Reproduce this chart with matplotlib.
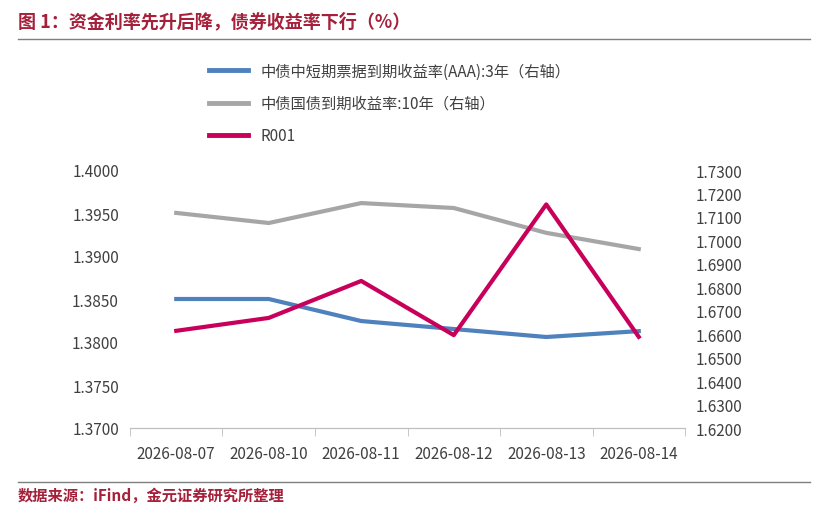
import matplotlib
matplotlib.use("Agg")
import matplotlib.pyplot as plt
from matplotlib.lines import Line2D

plt.rcParams['font.family'] = ['Noto Sans CJK SC', 'DejaVu Sans']

dates = ["2026-08-07", "2026-08-10", "2026-08-11", "2026-08-12", "2026-08-13", "2026-08-14"]
mtn_3y = [1.6750, 1.6750, 1.6656, 1.6622, 1.6588, 1.6613]
gov_10y = [1.7117, 1.7074, 1.7159, 1.7138, 1.7032, 1.6963]
r001 = [1.3813, 1.3828, 1.3871, 1.3808, 1.3960, 1.3806]

fig = plt.figure(figsize=(8.2, 5.1), dpi=100)
ax = fig.add_axes([130/820, 1-429/510, (685-130)/820, (429-171)/510])
ax2 = ax.twinx()
x = range(len(dates))
ax2.plot(x, mtn_3y, color="#4f81bd", lw=3)
ax2.plot(x, gov_10y, color="#a6a6a6", lw=3)
ax.plot(x, r001, color="#c8005a", lw=3, zorder=5)
ax.set_zorder(ax2.get_zorder()+1); ax.patch.set_visible(False)

ax.set_ylim(1.37, 1.40)
ax.set_yticks([1.37 + 0.005*i for i in range(7)])
ax.set_yticklabels([f"{1.37+0.005*i:.4f}" for i in range(7)])
ax2.set_ylim(1.62, 1.73)
ax2.set_yticks([1.62 + 0.01*i for i in range(12)])
ax2.set_yticklabels([f"{1.62+0.01*i:.4f}" for i in range(12)])
ax.set_xlim(-0.5, 5.5)
ax.set_xticks(list(x)); ax.set_xticklabels(dates)
for a in (ax, ax2):
    for s in ["top", "left", "right"]:
        a.spines[s].set_visible(False)
    a.spines["bottom"].set_color("#bfbfbf")
    a.tick_params(length=0, labelsize=11, colors="#404040", pad=8)
ax.tick_params(axis="x", pad=12)
ax.set_xticks([i+0.5 for i in range(-1, 6)], minor=True)
ax.tick_params(axis="x", which="minor", length=6, color="#bfbfbf")

handles = [Line2D([], [], color="#4f81bd", lw=3.5),
           Line2D([], [], color="#a6a6a6", lw=3.5),
           Line2D([], [], color="#c8005a", lw=3.5)]
labels = ["中债中短期票据到期收益率(AAA):3年（右轴）", "中债国债到期收益率:10年（右轴）", "R001"]
fig.legend(handles, labels, loc="upper left", bbox_to_anchor=(195/820, 1-50/510),
           frameon=False, fontsize=11, labelcolor="#404040", handlelength=2.6, labelspacing=1.0)

fig.text(18/820, 1-22/510, "图 1：资金利率先升后降，债券收益率下行（%）", color="#a5203a",
         fontsize=13, fontweight="bold", va="center")
fig.add_artist(Line2D([18/820, 810/820], [1-40/510]*2, color="#7f7f7f", lw=1))
fig.add_artist(Line2D([18/820, 810/820], [1-483/510]*2, color="#7f7f7f", lw=1))
fig.text(18/820, 1-496/510, "数据来源：iFind，金元证券研究所整理", color="#a5203a",
         fontsize=11, fontweight="bold", style="italic", va="center")
fig.savefig("out.png", dpi=100)
